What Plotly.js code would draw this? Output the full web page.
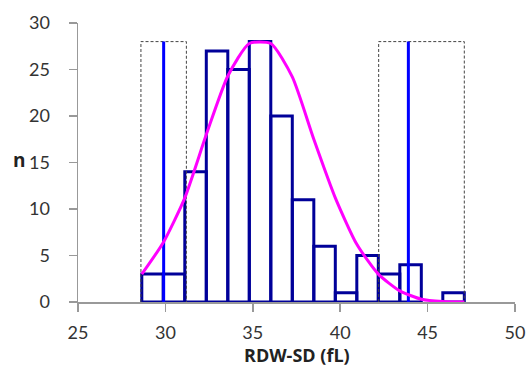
<!DOCTYPE html>
<html>
<head>
<meta charset="utf-8">
<script src="https://cdn.plot.ly/plotly-3.0.1.min.js"></script>
<style>html,body{margin:0;padding:0;background:#fff;}#chart{width:530px;height:367px;}</style>
</head>
<body>
<div id="chart"></div>
<script>
// Histogram bin edges (fL) and counts
const binEdges = [28.65, 29.88, 31.11, 32.34, 33.57, 34.80, 36.03, 37.26, 38.49, 39.72, 40.95, 42.18, 43.41, 44.64, 45.87, 47.10];
const counts   = [3, 3, 14, 27, 25, 28, 20, 11, 6, 1, 5, 3, 4, 0, 1];
// Fitted normal curve read at bin edges
const curveY   = [3.0, 6.4, 11.2, 18.0, 24.3, 27.8, 27.8, 24.2, 17.5, 11.2, 6.2, 3.0, 1.2, 0.3, 0.05, 0];
// Reference limits and their confidence intervals
const refLimits = [29.9, 43.9];
const ciLow  = [28.6, 42.2];
const ciHigh = [31.2, 47.1];
const limitTop = 28;
const xTicks = [25, 30, 35, 40, 45, 50];
const yTicks = [0, 5, 10, 15, 20, 25, 30];
const xTitle = 'RDW-SD (fL)';
const yTitle = 'n';

const centers = [], widths = [], barY = [];
for (let i = 0; i < counts.length; i++) {
  centers.push((binEdges[i] + binEdges[i+1]) / 2);
  widths.push(binEdges[i+1] - binEdges[i]);
  barY.push(counts[i] === 0 ? null : counts[i]);
}

const traces = [];
// dashed CI boxes
for (let k = 0; k < ciLow.length; k++) {
  traces.push({
    x: [ciLow[k], ciLow[k], ciHigh[k], ciHigh[k]],
    y: [0, limitTop, limitTop, 0],
    mode: 'lines', type: 'scatter', hoverinfo: 'skip', showlegend: false,
    line: {color: '#444444', width: 1, dash: '3px,2px'}
  });
}
traces.push({
  x: centers, y: barY, width: widths, type: 'bar', showlegend: false,
  marker: {color: 'rgba(255,255,255,0)', line: {color: '#000099', width: 3}}
});
for (let k = 0; k < refLimits.length; k++) {
  traces.push({
    x: [refLimits[k], refLimits[k]], y: [0, limitTop],
    mode: 'lines', type: 'scatter', showlegend: false,
    line: {color: '#0000FF', width: 3}
  });
}
traces.push({
  x: binEdges, y: curveY, mode: 'lines', type: 'scatter', showlegend: false,
  line: {color: '#FF00FF', width: 3, shape: 'spline', smoothing: 0.6}
});

const fontFam = 'Lato, "Open Sans", sans-serif';
const layout = {
  width: 530, height: 367,
  margin: {l: 78, r: 15, t: 23, b: 65},
  paper_bgcolor: '#fff', plot_bgcolor: '#fff',
  font: {family: fontFam, size: 18, color: '#333333'},
  bargap: 0,
  xaxis: {
    range: [25, 50], tickvals: xTicks, ticktext: xTicks.map(String),
    showgrid: false, zeroline: false, showline: true, linecolor: '#999999', linewidth: 1.5,
    ticks: 'outside', ticklen: 8, tickcolor: '#999999', tickwidth: 1.5,
    ticklabelstandoff: 6
  },
  yaxis: {
    range: [0, 30], tickvals: yTicks, ticktext: yTicks.map(String),
    showgrid: false, zeroline: false, showline: true, linecolor: '#999999', linewidth: 1.5,
    ticks: 'outside', ticklen: 8, tickcolor: '#999999', tickwidth: 1.5,
    ticklabelstandoff: 15
  },
  annotations: [{
    text: '<b>' + yTitle + '</b>', xref: 'paper', yref: 'paper', x: -0.135, y: 0.51,
    showarrow: false, xanchor: 'center', yanchor: 'middle',
    font: {family: '"Open Sans", sans-serif', size: 19, color: '#222'}
  }, {
    text: '<b>' + xTitle + '</b>', xref: 'paper', yref: 'paper', x: 0.5, y: -0.19,
    showarrow: false, xanchor: 'center', yanchor: 'middle',
    font: {family: '"Open Sans", sans-serif', size: 18, color: '#222'}
  }]
};
Plotly.newPlot('chart', traces, layout, {staticPlot: true, displayModeBar: false});
</script>
</body>
</html>
